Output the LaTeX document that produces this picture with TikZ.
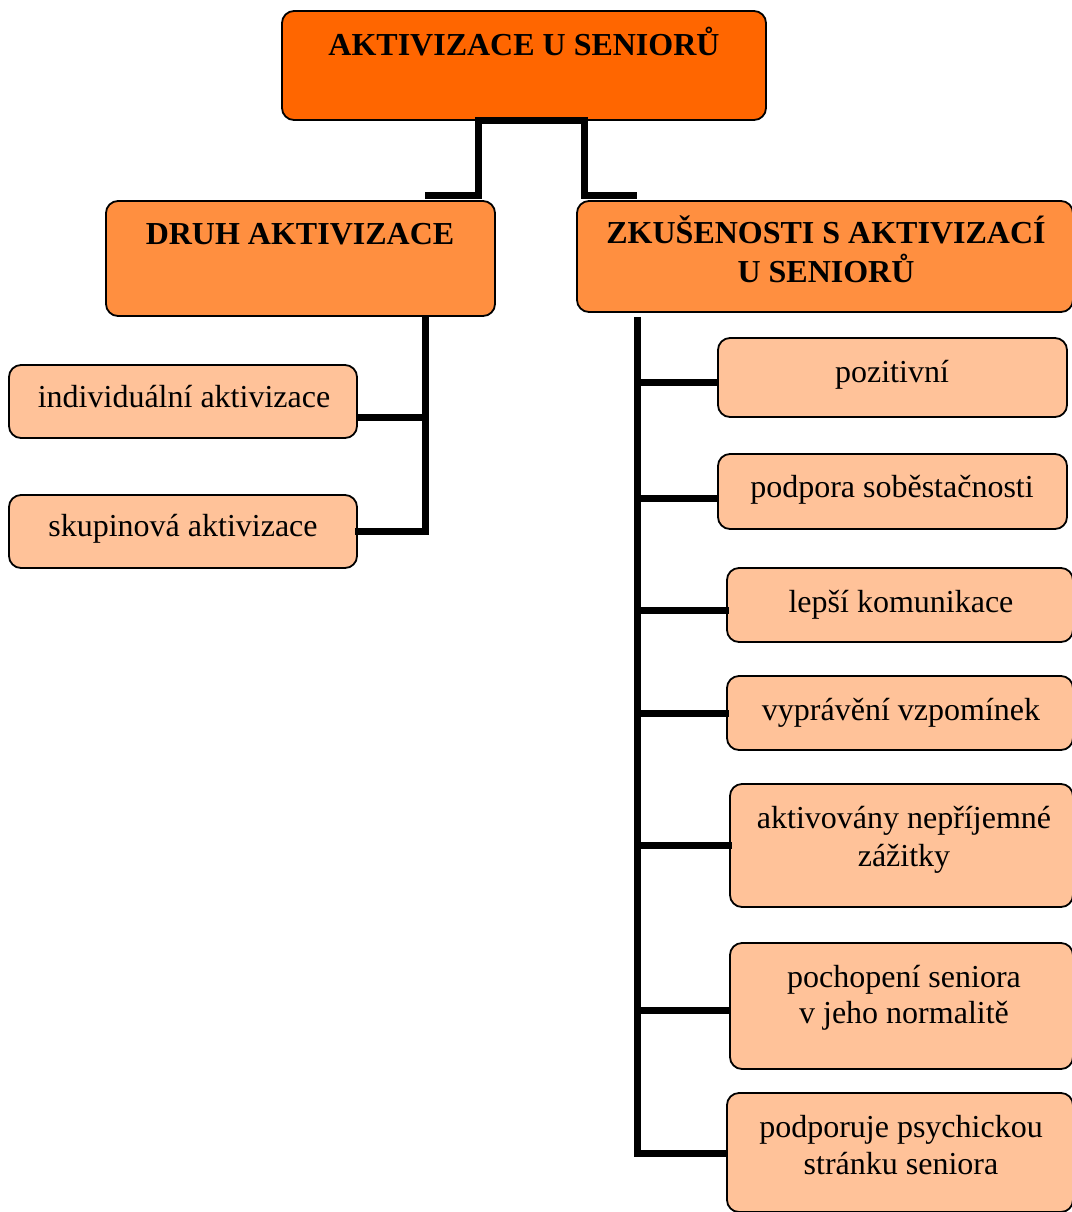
\documentclass[tikz,border=0pt]{standalone}
\usepackage{fontspec}
\setmainfont{Liberation Serif}
\usetikzlibrary{calc,fit}

\definecolor{rootc}{HTML}{FF6600}
\definecolor{midc}{HTML}{FF8F40}
\definecolor{leafc}{HTML}{FFC299}

\tikzset{
  boxbase/.style={draw=black, line width=0.9pt, rounded corners=6pt, inner sep=0pt},
  rootbox/.style={boxbase, fill=rootc},
  midbox/.style={boxbase, fill=midc},
  leafbox/.style={boxbase, fill=leafc},
  conn/.style={line width=3.5pt, draw=black},
  lbl/.style={anchor=base, inner sep=0pt, font=\fontsize{16}{18.5}\selectfont},
  hlbl/.style={lbl, font=\fontsize{16}{18.5}\selectfont\bfseries},
}

\begin{document}
\begin{tikzpicture}[x=0.5pt, y=-0.5pt]
  \useasboundingbox (0,0) rectangle (1072,1212);
  \clip (0,0) rectangle (1072,1212);

  % root and second level
  \node[rootbox, fit={(282,11) (766,120)}] (top) {};
  \node[hlbl] (t-top) at (524,55) {AKTIVIZACE U SENIORŮ};

  \node[midbox, fit={(106,201) (495,316)}] (druh) {};
  \node[hlbl] (t-druh) at (300,244) {DRUH AKTIVIZACE};

  \node[midbox, fit={(577,201) (1073,312)}] (zk) {};
  \node[hlbl] (t-zk1) at (826,243) {ZKUŠENOSTI S AKTIVIZACÍ};
  \node[hlbl] (t-zk2) at (826,282) {U SENIORŮ};

  % kinds of activation
  \node[leafbox, fit={(9,365) (357,438)}] (ind) {};
  \node[lbl] (t-ind) at (184,407) {individuální aktivizace};
  \node[leafbox, fit={(9,495) (357,568)}] (sk) {};
  \node[lbl] (t-sk) at (183,536) {skupinová aktivizace};

  % experiences
  \node[leafbox, fit={(718,338) (1067,417)}] (b1) {};
  \node[lbl] (t-b1) at (892,382) {pozitivní};
  \node[leafbox, fit={(718,454) (1067,529)}] (b2) {};
  \node[lbl] (t-b2) at (892,497) {podpora soběstačnosti};
  \node[leafbox, fit={(727,568) (1073,642)}] (b3) {};
  \node[lbl] (t-b3) at (901,612) {lepší komunikace};
  \node[leafbox, fit={(727,676) (1073,750)}] (b4) {};
  \node[lbl] (t-b4) at (901,720) {vyprávění vzpomínek};
  \node[leafbox, fit={(730,784) (1073,907)}] (b5) {};
  \node[lbl] (t-b5a) at (904,828) {aktivovány nepříjemné};
  \node[lbl] (t-b5b) at (904,866) {zážitky};
  \node[leafbox, fit={(730,943) (1073,1069)}] (b6) {};
  \node[lbl] (t-b6a) at (904,987) {pochopení seniora};
  \node[lbl] (t-b6b) at (904,1023) {v jeho normalitě};
  \node[leafbox, fit={(727,1093) (1073,1212)}] (b7) {};
  \node[lbl] (t-b7a) at (901,1137) {podporuje psychickou};
  \node[lbl] (t-b7b) at (901,1174) {stránku seniora};

  % root to second level
  \draw[conn] ($(druh.north west)+(320,-5)$) -| ($(top.south west)+(197,0)$)
              -| ($(zk.north west)+(8,-5)$) -- ($(zk.north west)+(61,-5)$);

  % left subtree
  \coordinate (ltrunk) at ($(druh.south west)+(320,0)$);
  \draw[conn] (ltrunk) |- ($(sk.east)+(-3,0)$);
  \coordinate (indj) at ($(ind.south east)+(0,-21)$);
  \draw[conn] (indj) -- (indj -| ltrunk);

  % right subtree
  \coordinate (rtrunk) at ($(zk.south west)+(61,4)$);
  \coordinate (j7) at ($(b7.north west)+(0,61)$);
  \draw[conn] (rtrunk) |- (j7);
  \coordinate (j1) at ($(b1.west)+(0,5)$);
  \draw[conn] (j1 -| rtrunk) -- (j1);
  \coordinate (j2) at ($(b2.west)+(0,7)$);
  \draw[conn] (j2 -| rtrunk) -- (j2);
  \coordinate (j3) at ($(b3.west)+(3,5)$);
  \draw[conn] (j3 -| rtrunk) -- (j3);
  \coordinate (j4) at ($(b4.west)+(3,0)$);
  \draw[conn] (j4 -| rtrunk) -- (j4);
  \coordinate (j5) at ($(b5.west)+(3,0)$);
  \draw[conn] (j5 -| rtrunk) -- (j5);
  \coordinate (j6) at ($(b6.west)+(0,4)$);
  \draw[conn] (j6 -| rtrunk) -- (j6);
\end{tikzpicture}
\end{document}
